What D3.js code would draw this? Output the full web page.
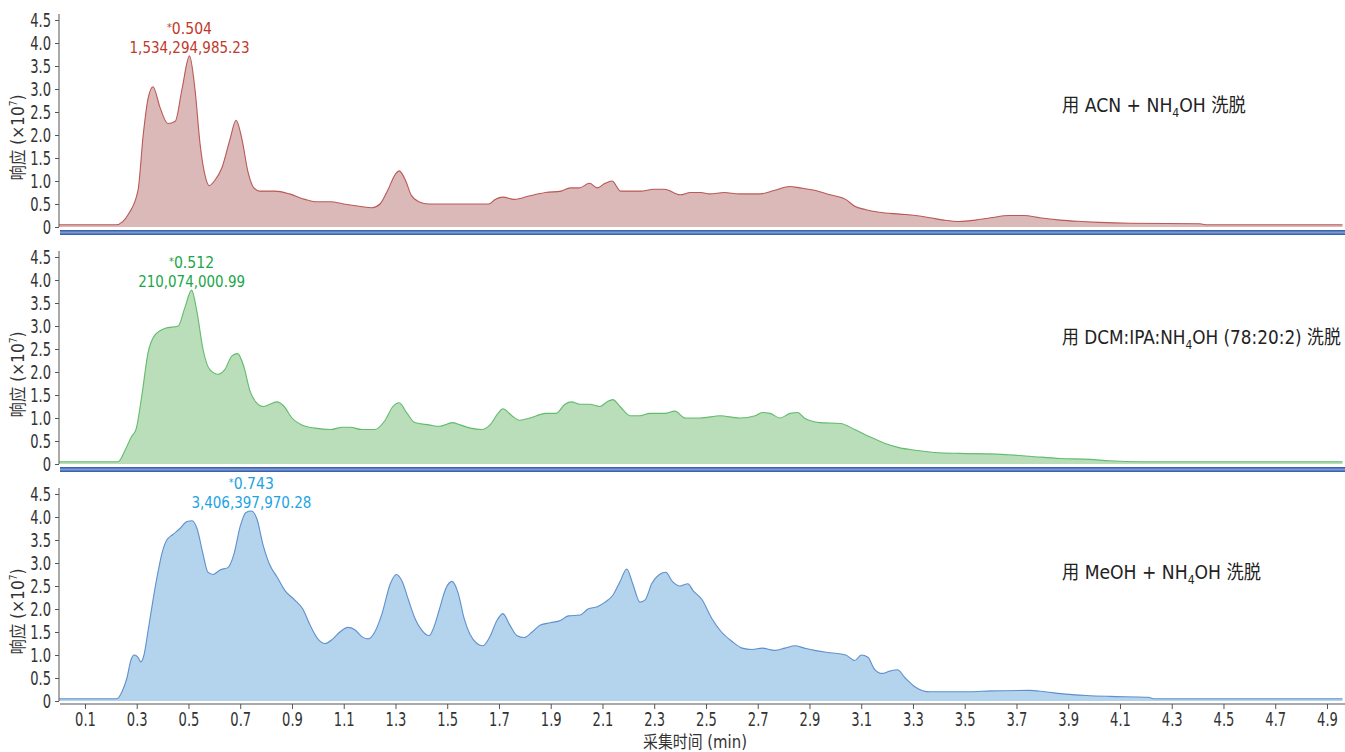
<!DOCTYPE html>
<html>
<head>
<meta charset="utf-8">
<script src="https://cdn.jsdelivr.net/npm/d3@7"></script>
<style>
  html, body { margin: 0; padding: 0; background: #fff; }
  svg { display: block; }
  text { font-family: "DejaVu Sans", "Noto Sans CJK SC", sans-serif; }
</style>
</head>
<body>
<svg id="chart" width="1345" height="752"></svg>
<script>
// Total ion chromatograms, response ×10^7 versus acquisition time (min)
const xTicks = [0.1, 0.3, 0.5, 0.7, 0.9, 1.1, 1.3, 1.5, 1.7, 1.9, 2.1, 2.3, 2.5, 2.7, 2.9, 3.1, 3.3, 3.5, 3.7, 3.9, 4.1, 4.3, 4.5, 4.7, 4.9];
const yTicks = [0, 0.5, 1.0, 1.5, 2.0, 2.5, 3.0, 3.5, 4.0, 4.5];
const yTickLabels = ["0", "0.5", "1.0", "1.5", "2.0", "2.5", "3.0", "3.5", "4.0", "4.5"];

const seriesNames = ["ACN + NH4OH", "DCM:IPA:NH4OH (78:20:2)", "MeOH + NH4OH"];
const peakTimes = [0.504, 0.512, 0.743];
const peakAreas = ["1,534,294,985.23", "210,074,000.99", "3,406,397,970.28"];

// [time (min), response ×10^7]
const acnTrace = [
  [0, 0.05], [0.22, 0.05], [0.27, 0.3], [0.305, 0.8], [0.325, 2.0], [0.344, 2.8], [0.363, 3.05],
  [0.39, 2.6], [0.42, 2.25], [0.449, 2.3], [0.475, 3.0], [0.504, 3.72], [0.525, 3.0], [0.545, 1.8],
  [0.565, 1.1], [0.58, 0.9], [0.60, 1.0], [0.63, 1.3], [0.66, 1.9], [0.684, 2.32], [0.707, 1.9],
  [0.73, 1.2], [0.753, 0.85], [0.776, 0.78], [0.835, 0.78], [0.89, 0.72], [0.95, 0.6], [0.99, 0.55],
  [1.05, 0.55], [1.10, 0.5], [1.16, 0.45], [1.21, 0.42], [1.24, 0.5], [1.27, 0.8], [1.30, 1.15],
  [1.314, 1.22], [1.34, 1.0], [1.36, 0.7], [1.39, 0.55], [1.43, 0.5], [1.55, 0.5], [1.66, 0.5],
  [1.685, 0.6], [1.715, 0.65], [1.76, 0.6], [1.82, 0.68], [1.88, 0.75], [1.94, 0.78], [1.975, 0.85],
  [2.01, 0.85], [2.05, 0.95], [2.08, 0.85], [2.11, 0.95], [2.137, 1.0], [2.17, 0.78], [2.245, 0.78],
  [2.30, 0.82], [2.34, 0.82], [2.40, 0.7], [2.44, 0.75], [2.48, 0.75], [2.515, 0.72], [2.57, 0.75],
  [2.63, 0.72], [2.71, 0.72], [2.766, 0.8], [2.825, 0.88], [2.863, 0.85], [2.92, 0.8], [2.98, 0.7],
  [3.04, 0.6], [3.075, 0.45], [3.115, 0.38], [3.17, 0.32], [3.25, 0.28], [3.31, 0.25], [3.366, 0.2],
  [3.42, 0.15], [3.48, 0.12], [3.54, 0.15], [3.6, 0.2], [3.67, 0.25], [3.73, 0.25], [3.79, 0.2],
  [3.87, 0.15], [3.95, 0.12], [4.02, 0.1], [4.14, 0.08], [4.41, 0.07], [4.43, 0.05], [4.96, 0.05]
];

const dcmTrace = [
  [0, 0.05], [0.228, 0.05], [0.255, 0.3], [0.28, 0.6], [0.297, 0.75], [0.32, 1.5], [0.343, 2.4],
  [0.37, 2.8], [0.41, 2.95], [0.46, 3.0], [0.486, 3.4], [0.512, 3.78], [0.533, 3.3], [0.556, 2.5],
  [0.583, 2.05], [0.615, 1.95], [0.64, 2.05], [0.668, 2.35], [0.69, 2.4], [0.715, 2.1], [0.737, 1.6],
  [0.76, 1.35], [0.788, 1.25], [0.815, 1.3], [0.842, 1.35], [0.87, 1.25], [0.9, 1.0], [0.938, 0.85],
  [0.99, 0.78], [1.05, 0.75], [1.095, 0.8], [1.125, 0.8], [1.17, 0.75], [1.22, 0.75], [1.26, 0.95],
  [1.29, 1.25], [1.314, 1.33], [1.345, 1.1], [1.375, 0.9], [1.43, 0.85], [1.47, 0.82], [1.52, 0.9],
  [1.55, 0.85], [1.59, 0.78], [1.635, 0.75], [1.665, 0.85], [1.696, 1.1], [1.715, 1.2], [1.75, 1.05],
  [1.78, 0.95], [1.82, 1.0], [1.88, 1.1], [1.92, 1.1], [1.955, 1.3], [1.98, 1.35], [2.013, 1.3],
  [2.05, 1.3], [2.09, 1.25], [2.117, 1.35], [2.14, 1.4], [2.168, 1.25], [2.207, 1.05], [2.245, 1.05],
  [2.283, 1.1], [2.34, 1.1], [2.38, 1.15], [2.42, 1.0], [2.477, 1.0], [2.555, 1.05], [2.63, 1.0],
  [2.69, 1.05], [2.717, 1.12], [2.748, 1.1], [2.786, 1.0], [2.825, 1.1], [2.855, 1.12], [2.88, 1.0],
  [2.94, 0.9], [3.02, 0.88], [3.075, 0.75], [3.13, 0.6], [3.19, 0.45], [3.25, 0.35], [3.31, 0.3],
  [3.385, 0.25], [3.48, 0.23], [3.6, 0.22], [3.67, 0.2], [3.75, 0.17], [3.87, 0.12], [3.985, 0.1],
  [4.06, 0.07], [4.18, 0.05], [4.96, 0.05]
];

const meohTrace = [
  [0, 0.05], [0.224, 0.05], [0.243, 0.2], [0.262, 0.5], [0.278, 0.9], [0.29, 1.0], [0.305, 0.95],
  [0.316, 0.85], [0.328, 1.0], [0.343, 1.5], [0.363, 2.2], [0.382, 2.8], [0.397, 3.2], [0.416, 3.5],
  [0.44, 3.62], [0.467, 3.75], [0.494, 3.9], [0.514, 3.92], [0.533, 3.75], [0.556, 3.2], [0.575, 2.8],
  [0.595, 2.75], [0.622, 2.85], [0.652, 2.9], [0.676, 3.2], [0.7, 3.8], [0.722, 4.1], [0.743, 4.13],
  [0.765, 3.95], [0.788, 3.4], [0.815, 2.95], [0.842, 2.7], [0.873, 2.4], [0.91, 2.2], [0.942, 2.0],
  [0.97, 1.65], [1.0, 1.35], [1.027, 1.25], [1.058, 1.35], [1.085, 1.5], [1.116, 1.6], [1.143, 1.55],
  [1.17, 1.4], [1.194, 1.35], [1.22, 1.5], [1.248, 1.9], [1.28, 2.55], [1.303, 2.75], [1.326, 2.6],
  [1.35, 2.2], [1.375, 1.8], [1.40, 1.55], [1.43, 1.42], [1.448, 1.6], [1.47, 2.0], [1.495, 2.45],
  [1.518, 2.6], [1.542, 2.35], [1.565, 1.8], [1.588, 1.45], [1.615, 1.25], [1.638, 1.2], [1.665, 1.4],
  [1.692, 1.75], [1.715, 1.9], [1.742, 1.65], [1.77, 1.42], [1.797, 1.38], [1.828, 1.5], [1.86, 1.65],
  [1.898, 1.7], [1.937, 1.75], [1.968, 1.85], [2.013, 1.87], [2.044, 2.0], [2.08, 2.05], [2.11, 2.15],
  [2.14, 2.3], [2.168, 2.6], [2.194, 2.87], [2.217, 2.55], [2.245, 2.15], [2.265, 2.2], [2.29, 2.55],
  [2.32, 2.75], [2.345, 2.8], [2.37, 2.6], [2.4, 2.5], [2.43, 2.55], [2.45, 2.4], [2.485, 2.2],
  [2.522, 1.8], [2.56, 1.5], [2.6, 1.3], [2.64, 1.15], [2.678, 1.12], [2.717, 1.15], [2.766, 1.1],
  [2.805, 1.15], [2.844, 1.2], [2.88, 1.15], [2.92, 1.1], [2.98, 1.05], [3.04, 1.0], [3.075, 0.88],
  [3.1, 1.0], [3.126, 0.95], [3.15, 0.7], [3.18, 0.6], [3.21, 0.65], [3.24, 0.68], [3.27, 0.5],
  [3.31, 0.3], [3.366, 0.2], [3.44, 0.2], [3.52, 0.2], [3.6, 0.22], [3.75, 0.23], [3.81, 0.2],
  [3.89, 0.15], [3.97, 0.12], [4.06, 0.1], [4.21, 0.08], [4.23, 0.05], [4.96, 0.05]
];

const traces = [acnTrace, dcmTrace, meohTrace];

// Panel styling
const panels = [
  { top: 20,  zero: 227, fill: "#dcb9b9", stroke: "#b0423f", label: "#c0392b", legendY: 112, legendW: 184, legend: ["用 ACN + NH", "4", "OH 洗脱"] },
  { top: 257, zero: 464, fill: "#b9deb9", stroke: "#4cb35a", label: "#1aa64a", legendY: 344, legendW: 279, legend: ["用 DCM:IPA:NH", "4", "OH (78:20:2) 洗脱"] },
  { top: 494, zero: 701, fill: "#b4d4ee", stroke: "#4a80c4", label: "#1ca3e3", legendY: 579, legendW: 199, legend: ["用 MeOH + NH", "4", "OH 洗脱"] }
];
const areaLabelW = [120, 107, 120];

// Narrow text with a horizontal scale (the typeface is condensed).
// The text is placed at (0,0) inside a group translated to (tx, ty).
function placeScaled(group, tx, ty, width) {
  const w = group.node().getBBox().width;
  group.attr("transform", `translate(${tx},${ty}) scale(${width / w},1)`);
}
function squeezeTicks(sel, factor, dx) {
  sel.each(function () {
    d3.select(this).attr("x", (dx || 0) / factor).attr("transform", `scale(${factor},1)`);
  });
}

const svg = d3.select("#chart");
const x = d3.scaleLinear().domain([0, 4.96]).range([59.1, 1342.5]);

panels.forEach((p, i) => {
  const y = d3.scaleLinear().domain([0, 4.5]).range([p.zero, p.top]);
  const g = svg.append("g");

  const area = d3.area()
    .x(d => x(d[0]))
    .y0(y(0))
    .y1(d => y(d[1]))
    .curve(d3.curveMonotoneX);
  const line = d3.line()
    .x(d => x(d[0]))
    .y(d => y(d[1]))
    .curve(d3.curveMonotoneX);

  g.append("path").datum(traces[i]).attr("d", area).attr("fill", p.fill);
  g.append("path").datum(traces[i]).attr("d", line)
    .attr("fill", "none").attr("stroke", p.stroke).attr("stroke-width", 1.1).attr("stroke-opacity", 0.85);

  // y axis
  const yAxis = d3.axisLeft(y).tickValues(yTicks).tickSize(4).tickSizeOuter(0)
    .tickFormat((d, k) => yTickLabels[k]);
  const ya = g.append("g").attr("transform", "translate(59,0)").call(yAxis);
  ya.select(".domain").attr("stroke", "#555").attr("d", `M0,${p.top - 6}V${p.zero}`);
  ya.selectAll(".tick line").attr("stroke", "#555");
  ya.selectAll(".tick text").attr("font-size", 19).attr("fill", "#333").attr("dy", "0.36em")
    .style("font-family", '"DejaVu Sans", sans-serif');
  squeezeTicks(ya.selectAll(".tick text"), 0.69, -8);

  // y axis title
  const ytG = g.append("g");
  const yt = ytG.append("text").attr("text-anchor", "middle").attr("font-size", 17).attr("fill", "#333");
  yt.append("tspan").text("响应 (×10");
  yt.append("tspan").text("7").attr("font-size", 10).attr("dy", -7);
  yt.append("tspan").text(")").attr("dy", 7);
  const ytW = yt.node().getBBox().width;
  ytG.attr("transform", `translate(24,${(p.top + p.zero) / 2 + 14}) rotate(-90) scale(${86 / ytW},1)`);

  // peak annotation: retention time and area above the tallest peak
  const peakVal = d3.max(traces[i], d => d[1]);
  const ax = x(peakTimes[i]);
  const ay = y(peakVal);
  const aG1 = g.append("g");
  const t1 = aG1.append("text").attr("text-anchor", "middle").attr("fill", p.label).attr("font-size", 16);
  t1.append("tspan").text("*").attr("font-size", 11).attr("dy", -3);
  t1.append("tspan").text(peakTimes[i].toFixed(3)).attr("dy", 3);
  placeScaled(aG1, ax, ay - 22, 45);
  const aG2 = g.append("g");
  aG2.append("text").attr("text-anchor", "middle").attr("fill", p.label).attr("font-size", 16).text(peakAreas[i]);
  placeScaled(aG2, ax, ay - 3, areaLabelW[i]);

  // legend, narrowed so it ends where the panel does
  const lgG = g.append("g");
  const lg = lgG.append("text").attr("font-size", 19).attr("fill", "#222");
  lg.append("tspan").text(p.legend[0]);
  lg.append("tspan").text(p.legend[1]).attr("font-size", 12).attr("dy", 5);
  lg.append("tspan").text(p.legend[2]).attr("dy", -5);
  placeScaled(lgG, 1062, p.legendY, p.legendW);

  // separator bar below upper panels
  if (i < 2) {
    const sy = p.zero + 3;
    g.append("rect").attr("x", 60).attr("y", sy).attr("width", 1285).attr("height", 5).attr("fill", "#3c63aa");
    g.append("rect").attr("x", 60).attr("y", sy + 1.5).attr("width", 1285).attr("height", 2).attr("fill", "#7a9ad6");
  }
});

// x axis under the bottom panel
const xAxis = d3.axisBottom(x).tickValues(xTicks).tickSize(5).tickSizeOuter(0).tickFormat(d3.format(".1f"));
const xa = svg.append("g").attr("transform", "translate(0,704)").call(xAxis);
xa.select(".domain").attr("stroke", "#555").attr("d", "M60,0H1345");
xa.selectAll(".tick line").attr("stroke", "#555");
xa.selectAll(".tick text").attr("font-size", 19).attr("fill", "#333").attr("y", 9)
  .style("font-family", '"DejaVu Sans", sans-serif');
squeezeTicks(xa.selectAll(".tick text"), 0.69, 0);

const xtG = svg.append("g");
xtG.append("text").attr("text-anchor", "middle").attr("font-size", 17).attr("fill", "#333").text("采集时间 (min)");
placeScaled(xtG, 695, 748, 104);
</script>
</body>
</html>
